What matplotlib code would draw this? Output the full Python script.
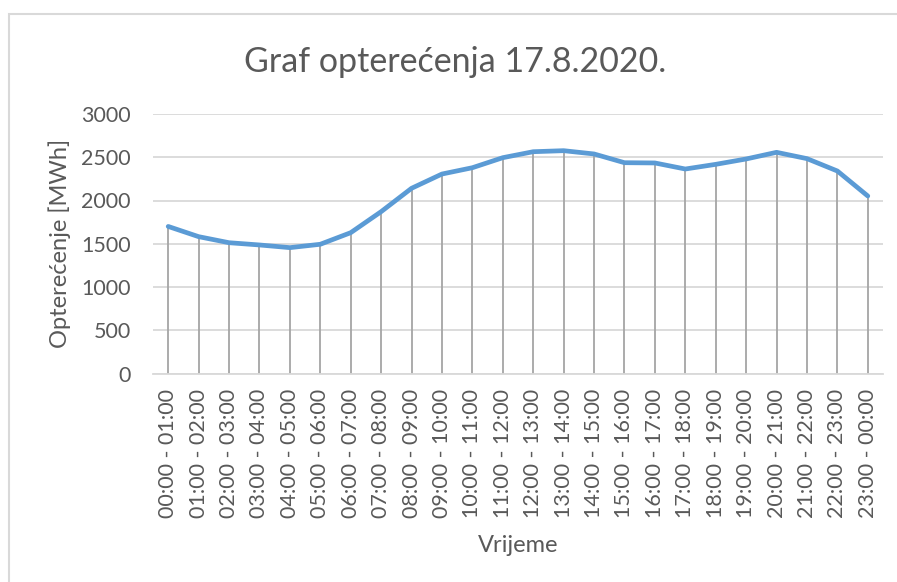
#!/usr/bin/python3

import matplotlib
matplotlib.use("Agg")
import matplotlib.pyplot as plt
from matplotlib.patches import Rectangle

# hourly load
hours = [f"{h:02d}:00 - {(h + 1) % 24:02d}:00" for h in range(24)]
load_mwh = [1700, 1582, 1512, 1486, 1455, 1494, 1628, 1871, 2141, 2306,
            2379, 2495, 2564, 2576, 2538, 2437, 2434, 2364, 2418, 2480,
            2557, 2484, 2341, 2052]
y_ticks = [0, 500, 1000, 1500, 2000, 2500, 3000]

TEXT = "#595959"
GRID = "#D9D9D9"


def main():
    plt.rcParams["font.family"] = ["Lato", "DejaVu Sans"]

    fig = plt.figure(figsize=(8.97, 5.82), dpi=100)
    # chart area border
    fig.patches.append(Rectangle((9 / 897, -0.01), 1.0, (582 - 14) / 582 + 0.01,
                                 transform=fig.transFigure, fill=False,
                                 edgecolor=GRID, linewidth=1.5))

    ax = fig.add_axes([153 / 897, (582 - 373.5) / 582,
                       730 / 897, 259.5 / 582])
    x = list(range(len(hours)))

    ax.vlines(x, 0, load_mwh, color="#A5A5A5", linewidth=1.3, zorder=2)
    ax.plot(x, load_mwh, color="#5B9BD5", linewidth=3.4,
            solid_joinstyle="round", solid_capstyle="round", zorder=3)

    ax.set_xlim(-0.5, len(hours) - 0.5)
    ax.set_ylim(0, 3000)
    ax.set_yticks(y_ticks)
    ax.set_xticks(x)
    ax.set_xticklabels(hours, rotation=90)
    ax.grid(axis="y", color=GRID, linewidth=1.3, zorder=1)

    for side in ["top", "right", "left"]:
        ax.spines[side].set_visible(False)
    ax.spines["bottom"].set_color(GRID)
    ax.spines["bottom"].set_linewidth(1.3)

    ax.tick_params(axis="both", length=0, labelsize=15.5, colors=TEXT)
    ax.tick_params(axis="x", pad=11)
    ax.tick_params(axis="y", pad=16)

    ax.set_xlabel("Vrijeme", fontsize=17, color=TEXT, labelpad=12)
    ax.set_ylabel("Opterećenje [MWh]", fontsize=17, color=TEXT, labelpad=7)
    fig.text(455 / 897, 1 - 62 / 582, "Graf opterećenja 17.8.2020.",
             fontsize=24.5, color=TEXT, ha="center", va="center")

    fig.savefig("out.png", dpi=100)


if __name__ == "__main__":
    main()
